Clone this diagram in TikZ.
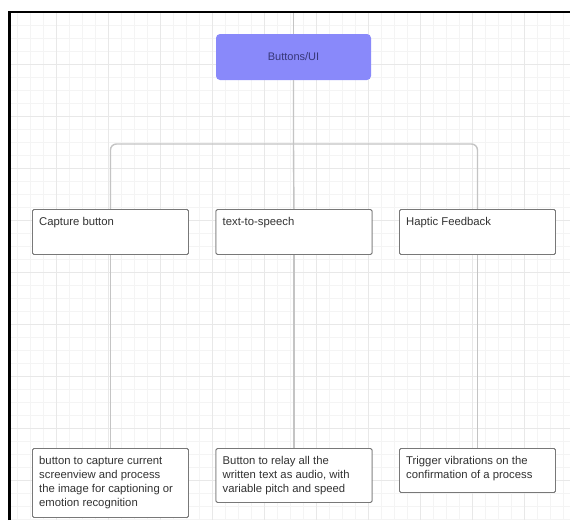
\documentclass[tikz,border=0pt]{standalone}
\usepackage{fontspec}
\setmainfont{Liberation Sans}
\definecolor{uifill}{RGB}{137,137,250}
\definecolor{uitext}{RGB}{55,55,120}
\definecolor{boxline}{RGB}{120,120,120}
\definecolor{connline}{RGB}{196,196,196}
\definecolor{txt}{RGB}{50,50,50}
\definecolor{gridmin}{RGB}{244,244,244}
\definecolor{gridmaj}{RGB}{232,232,232}
\begin{document}
\begin{tikzpicture}[x=1pt,y=-1pt,
  gridminor/.style={draw=gridmin,line width=0.6pt},
  gridmajor/.style={draw=gridmaj,line width=0.8pt},
  uibox/.style={fill=uifill,draw=none,rounded corners=4pt,minimum width=155pt,minimum height=46pt,inner sep=0pt,
    font=\fontsize{11}{14}\selectfont,text=uitext},
  wbox/.style={fill=white,draw=boxline,line width=0.9pt,rounded corners=1.5pt,minimum width=156pt,inner sep=0pt,anchor=north west},
  btext/.style={anchor=north west,inner sep=0pt,align=left,text=txt,font=\fontsize{11.3}{14}\selectfont},
  conn/.style={draw=connline,line width=1.4pt}]
\useasboundingbox (0,0) rectangle (570,520);
\fill[white] (0,0) rectangle (570,520);
% grid
\foreach \x in {17,30,...,570} \draw[gridminor] (\x,12) -- (\x,520);
\foreach \y in {25,38,...,520} \draw[gridminor] (9,\y) -- (570,\y);
\foreach \x in {56,108,...,570} \draw[gridmajor] (\x,12) -- (\x,520);
\foreach \y in {64,116,...,520} \draw[gridmajor] (9,\y) -- (570,\y);
% frame
\draw[line width=2.5pt] (9.5,520) -- (9.5,12) -- (570,12);
% nodes
\coordinate (top) at (293.5,13);
\coordinate (jn) at (293.5,144);
\node[uibox] (ui) at (293.5,57) {Buttons/UI};
\node[wbox,minimum height=45pt] (cap) at (32,209) {};
\node[wbox,minimum height=45pt] (tts) at (215.5,209) {};
\node[wbox,minimum height=45pt] (hap) at (399,209) {};
\node[wbox,minimum height=69pt] (capd) at (32,448) {};
\node[wbox,minimum height=54pt] (ttsd) at (215.5,448) {};
\node[wbox,minimum height=44pt] (hapd) at (399,448) {};
% connectors
\draw[conn] (top) -- (ui.north);
\draw[conn] (ui.south) -- (jn) -- (tts.north);
\draw[conn,rounded corners=6pt] (cap.north) |- (jn) -| (hap.north);
\draw[conn] (cap.south) -- (capd.north);
\draw[conn] (tts.south) -- (ttsd.north);
\draw[conn] (hap.south) -- (hapd.north);
% redraw boxes on top
\node[wbox,minimum height=45pt] at (32,209) {};
\node[wbox,minimum height=45pt] at (215.5,209) {};
\node[wbox,minimum height=45pt] at (399,209) {};
\node[wbox,minimum height=69pt] at (32,448) {};
\node[wbox,minimum height=54pt] at (215.5,448) {};
\node[wbox,minimum height=44pt] at (399,448) {};
% texts
\node[btext] (capt) at ([shift={(7,8)}]cap.north west) {Capture button};
\node[btext] (ttst) at ([shift={(7,8)}]tts.north west) {text-to-speech};
\node[btext] (hapt) at ([shift={(7,8)}]hap.north west) {Haptic Feedback};
\node[btext] (capdt) at ([shift={(7,8)}]capd.north west) {button to capture current\\screenview and process\\the image for captioning or\\emotion recognition};
\node[btext] (ttsdt) at ([shift={(7,8)}]ttsd.north west) {Button to relay all the\\written text as audio, with\\variable pitch and speed};
\node[btext] (hapdt) at ([shift={(7,8)}]hapd.north west) {Trigger vibrations on the\\confirmation of a process};
\end{tikzpicture}
\end{document}
